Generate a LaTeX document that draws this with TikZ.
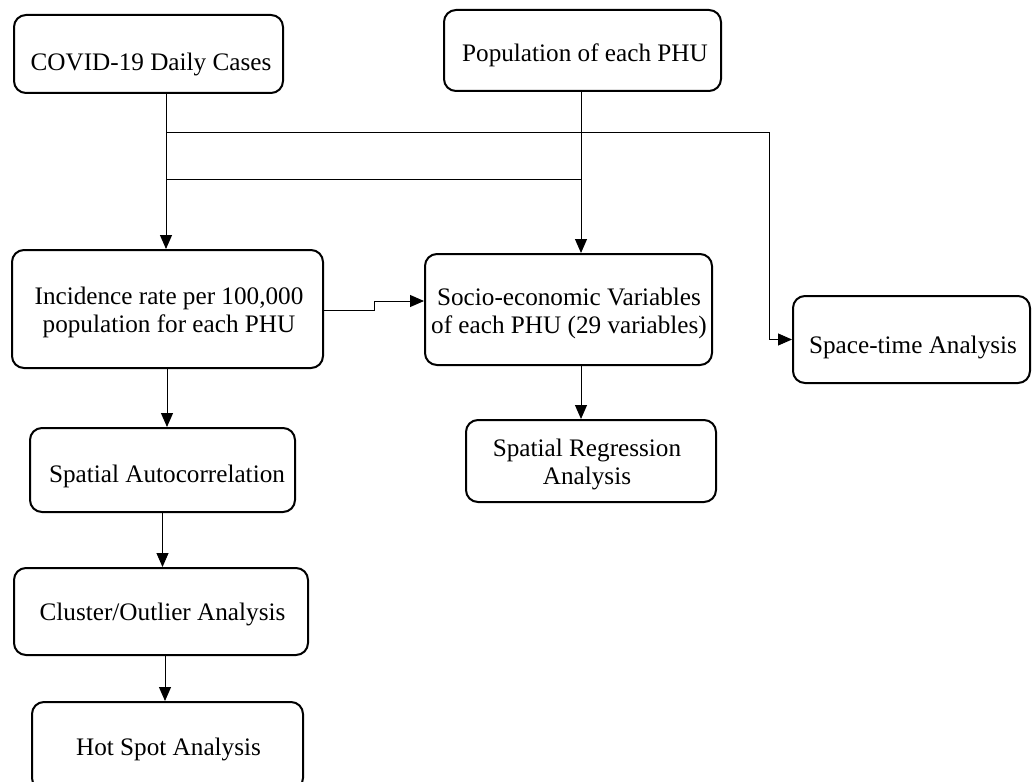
\documentclass[tikz,border=0pt]{standalone}
\usepackage{fontspec}
\setmainfont{Liberation Serif}
\usetikzlibrary{arrows.meta}
\begin{document}
\begin{tikzpicture}[x=0.5pt,y=-0.5pt,
  box/.style={draw, line width=1pt, rounded corners=6pt, inner sep=0pt},
  tx/.style={inner sep=0pt, align=center, font=\fontsize{12.6}{14}\selectfont},
  conn/.style={line width=0.5pt},
  arr/.style={conn, -{Triangle[length=7pt,width=6pt]}}]
\useasboundingbox (0,0) rectangle (1032,781);
\node[box, minimum width=134.5pt, minimum height=39pt] (cov) at (148.5,54) {};
\node[tx] (covt) at (151,64) {COVID-19 Daily Cases};
\node[box, minimum width=138.5pt, minimum height=40.5pt] (pop) at (582.5,50.5) {};
\node[tx] (popt) at (585,55) {Population of each PHU};
\node[box, minimum width=155.5pt, minimum height=59pt] (inc) at (167.5,309) {};
\node[tx] (inct) at (169,312) {Incidence rate per 100,000\\population for each PHU};
\node[box, minimum width=143.5pt, minimum height=55.5pt] (soc) at (568.5,309.5) {};
\node[tx] (soct) at (569,313) {Socio-economic Variables\\of each PHU (29 variables)};
\node[box, minimum width=118.5pt, minimum height=43.5pt] (spt) at (911.5,339.5) {};
\node[tx] (sptt) at (913,347) {Space-time Analysis};
\node[box, minimum width=132.5pt, minimum height=42pt] (sac) at (162.5,470) {};
\node[tx] (sact) at (167,476) {Spatial Autocorrelation};
\node[box, minimum width=125pt, minimum height=41pt] (srg) at (591,461) {};
\node[tx] (srgt) at (587,464) {Spatial Regression\\Analysis};
\node[box, minimum width=147pt, minimum height=43.5pt] (clu) at (161,611.5) {};
\node[tx] (clut) at (162.5,614) {Cluster/Outlier Analysis};
\node[box, minimum width=135.5pt, minimum height=44pt] (hot) at (167.5,746) {};
\node[tx] (hott) at (168.5,749) {Hot Spot Analysis};
\coordinate (c1) at (166,132);
\coordinate (c2) at (769,132);
\coordinate (c3) at (166,179);
\coordinate (c4) at (581,179);
\coordinate (c5) at (374,310.5);
\coordinate (c6) at (374,301);
\coordinate (c7) at (167,400);
\coordinate (c8) at (165,650);
\draw[arr] (cov.south -| c1) -- (inc.north -| c1);
\draw[conn] (c1) -- (c2);
\draw[arr] (c2) |- (spt.west);
\draw[conn] (c3) -- (c4);
\draw[arr] (pop.south -| c4) -- (soc.north -| c4);
\draw[arr] (inc.east |- c5) -- (c5) -- (c6) -- (soc.west |- c6);
\draw[arr] (inc.south -| c7) -- (sac.north -| c7);
\draw[arr] (sac.south) -- (sac.south |- clu.north);
\draw[arr] (clu.south -| c8) -- (hot.north -| c8);
\draw[arr] (soc.south -| c4) -- (srg.north -| c4);
\end{tikzpicture}
\end{document}
